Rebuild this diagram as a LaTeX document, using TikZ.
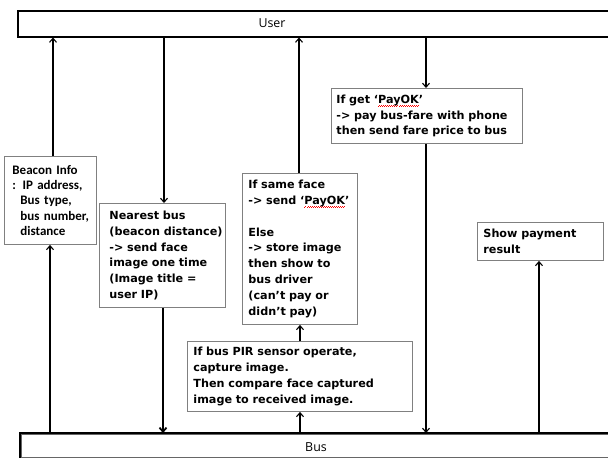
\documentclass[tikz,border=0pt]{standalone}
\usepackage{fontspec}
\usetikzlibrary{arrows.meta}
\setmainfont{DejaVu Sans}
\newfontfamily\beaconfamily{Carlito}
\newfontfamily\barfamily{Open Sans}
\definecolor{boxgray}{RGB}{128,128,128}
% red wavy spell-check underline under a word
\newsavebox\spellbox
\newcommand\wavedot{\hbox to 2pt{\rule{0.7pt}{0.7pt}\hss\raisebox{0.8pt}{\rule{0.7pt}{0.7pt}}\hss}}
\newcommand\spellwave[1]{\sbox\spellbox{#1}%
  \rlap{\textcolor{red}{\raisebox{-3pt}[0pt][0pt]{\hbox to \wd\spellbox{\xleaders\wavedot\hfill}}}}%
  \usebox\spellbox}

\begin{document}
\begin{tikzpicture}[x=1pt,y=-1pt,
  bar/.style={draw=black, line width=2pt, rectangle, inner sep=0pt, anchor=north west},
  bartext/.style={font=\barfamily\fontsize{12.4}{14}\selectfont, inner sep=0pt},
  box/.style={draw=boxgray, line width=0.9pt, rectangle, inner ysep=0pt, align=left,
    anchor=north west, font=\bfseries\fontsize{11.2}{15.8}\selectfont},
  beaconbox/.style={box, font=\beaconfamily\bfseries\fontsize{13}{15.3}\selectfont},
  link/.style={line width=1.1pt, -{Straight Barb[length=4pt,width=7pt]}},
  boldlink/.style={link, line width=1.8pt}]
\useasboundingbox (0,0) rectangle (608,458);
\clip (0,0) rectangle (608,458);

% the two actor bars
\node[bar, minimum width=700pt, minimum height=25.5pt] (user) at (17,10) {};
\node[bartext] (usertext) at (272,23.5) {User};
\node[bar, draw=black!60, minimum width=700pt, minimum height=24pt] (bus) at (20,433) {};
\draw[line width=2pt] (bus.south west) -- (bus.north west) -- (bus.north east);
\node[bartext] (bustext) at (316,447) {Bus};

% message boxes (width = text width + 2 * inner xsep)
\node[beaconbox, inner xsep=8pt, text width=76pt, minimum height=88pt] (beacon) at (4,156)
  {Beacon Info\\\mbox{: IP address,}\\\mbox{\hspace*{8pt}Bus type,}\\\mbox{\hspace*{8pt}bus number,}\\\mbox{\hspace*{8pt}distance}};
\node[box, inner xsep=10pt, text width=106pt, minimum height=104pt] (nearest) at (99,203)
  {\mbox{Nearest bus}\\\mbox{(beacon distance)}\\\mbox{-> send face}\\\mbox{image one time}\\\mbox{(Image title =}\\\mbox{user IP)}};
\node[box, inner xsep=6pt, text width=103pt, minimum height=151pt] (same) at (242,173)
  {\mbox{If same face}\\\mbox{-> send ‘\spellwave{PayOK}’}\\~\\Else\\\mbox{-> store image}\\\mbox{then show to}\\\mbox{bus driver}\\\mbox{(can’t pay or}\\\mbox{didn’t pay)}};
\node[box, inner xsep=6pt, text width=213pt, minimum height=70pt] (pir) at (187,341)
  {\mbox{If bus PIR sensor operate,}\\\mbox{capture image.}\\\mbox{Then compare face captured}\\\mbox{image to received image.}};
\node[box, inner xsep=5pt, text width=181pt, minimum height=55pt] (payok) at (331,88)
  {\mbox{If get ‘\spellwave{PayOK}’}\\\mbox{-> pay bus-fare with phone}\\\mbox{then send fare price to bus}};
\node[box, inner xsep=6pt, text width=114pt, minimum height=38pt] (show) at (477,222)
  {\mbox{Show payment}\\result};

% columns of the connectors
\coordinate (xa) at (53,0);
\coordinate (xb) at (50,0);
\coordinate (xc) at (164,0);
\coordinate (xd) at (163,0);
\coordinate (xe) at (299,0);
\coordinate (xf) at (300,0);
\coordinate (xg) at (426,0);
\coordinate (xh) at (539,0);

% connectors
\draw[link] (beacon.north -| xa) -- (user.south -| xa);
\draw[link] (bus.north -| xb) -- (beacon.south -| xb);
\draw[link] (user.south -| xc) -- (nearest.north -| xc);
\draw[boldlink] (nearest.south -| xd) -- (bus.north -| xd);
\draw[link] (same.north -| xe) -- (user.south -| xe);
\draw[link] (pir.north -| xf) -- (same.south -| xf);
\draw[link] (bus.north -| xf) -- (pir.south -| xf);
\draw[link] (user.south -| xg) -- (payok.north -| xg);
\draw[link] (payok.south -| xg) -- (bus.north -| xg);
\draw[link] (bus.north -| xh) -- (show.south -| xh);
\end{tikzpicture}
\end{document}
